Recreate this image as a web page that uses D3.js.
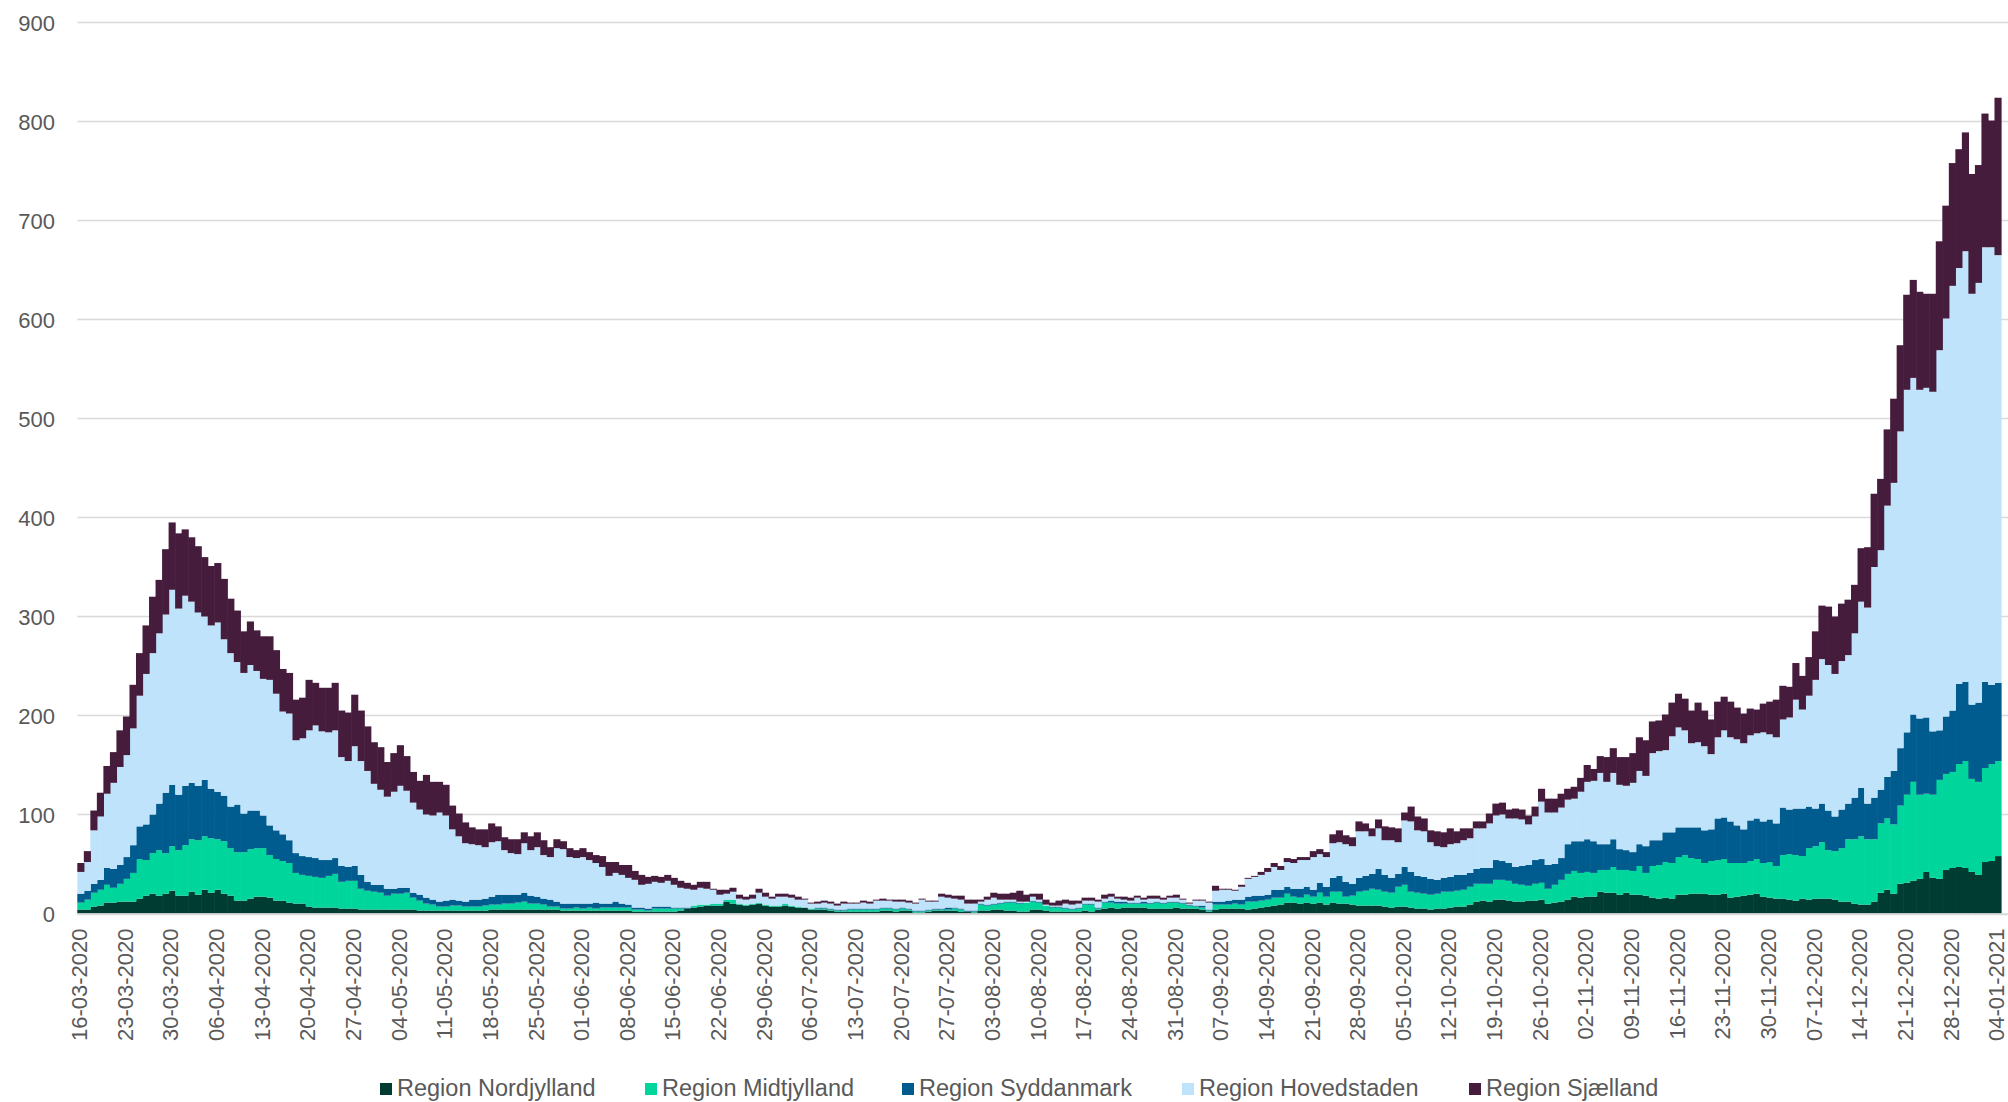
<!DOCTYPE html>
<html><head><meta charset="utf-8">
<script src="https://cdn.jsdelivr.net/npm/d3@7"></script>
<style>html,body{margin:0;padding:0;background:#fff}svg{display:block}text{font-family:"Liberation Sans",Arial,sans-serif}</style>
</head><body><svg id="c" width="2008" height="1102"></svg>
<script>
const seriesNames = ["Region Nordjylland","Region Midtjylland","Region Syddanmark","Region Hovedstaden","Region Sjælland"];
const seriesColors = ["#003c32","#00d59b","#005b8e","#bfe3fb","#461c3d"];
const tickLabels = ["16-03-2020","23-03-2020","30-03-2020","06-04-2020","13-04-2020","20-04-2020","27-04-2020","04-05-2020","11-05-2020","18-05-2020","25-05-2020","01-06-2020","08-06-2020","15-06-2020","22-06-2020","29-06-2020","06-07-2020","13-07-2020","20-07-2020","27-07-2020","03-08-2020","10-08-2020","17-08-2020","24-08-2020","31-08-2020","07-09-2020","14-09-2020","21-09-2020","28-09-2020","05-10-2020","12-10-2020","19-10-2020","26-10-2020","02-11-2020","09-11-2020","16-11-2020","23-11-2020","30-11-2020","07-12-2020","14-12-2020","21-12-2020","28-12-2020","04-01-2021"];
const yTicks = [0,100,200,300,400,500,600,700,800,900];
const nordjylland = [
4,4,7,8,11,11,12,12,12,15, 18,20,18,20,23,18,18,22,19,24, 21,24,20,18,13,13,15,17,17,16, 13,13,11,10,10,7,6,6,6,6,
5,5,5,4,4,4,4,4,4,4, 4,4,3,3,3,3,3,3,3,3, 3,3,3,4,4,4,4,4,4,4, 4,4,4,4,3,3,3,3,3,3,
3,3,3,3,3,2,2,2,2,2, 2,2,3,5,6,7,8,8,8,12, 10,9,8,9,10,8,7,7,8,7, 6,6,4,4,4,3,2,2,2,2,
2,2,2,3,3,2,3,3,1,1, 2,3,3,3,3,2,2,1,3,3, 4,4,3,3,2,2,4,4,3,2, 2,2,2,2,3,2,4,5,6,5,
6,6,6,6,5,5,5,5,6,5, 5,5,4,2,4,5,5,5,5,4, 5,6,7,8,9,11,11,10,11,10, 11,9,11,10,10,9,8,8,8,8,
7,6,7,7,6,5,5,4,5,5, 6,7,7,9,12,13,12,14,14,13, 12,12,13,13,14,10,11,12,14,17, 16,17,17,22,21,21,19,21,19,19,
18,16,15,16,15,19,19,20,20,20, 19,19,20,16,17,18,19,20,17,16, 15,15,14,13,15,14,15,15,15,14, 12,12,10,9,9,12,21,24,20,30,
31,33,35,42,36,35,44,46,47,46, 42,39,52,53,58];
const midtjylland = [
7,10,14,16,18,15,18,23,29,40, 36,41,46,41,45,46,51,53,55,54, 55,51,53,48,49,49,50,49,49,43, 42,40,40,31,29,31,31,30,32,34,
27,28,28,21,19,18,17,14,16,16, 17,12,10,7,6,4,4,5,5,4, 4,4,5,5,5,6,6,7,8,6, 6,5,3,3,2,2,3,2,3,2,
3,3,3,3,3,2,2,1,3,3, 3,3,2,0,2,2,1,2,2,2, 4,1,1,1,1,1,1,1,2,1, 1,0,1,1,1,1,1,1,2,2,
2,2,2,2,2,2,2,1,1,1, 1,1,1,1,2,2,0,1,6,5, 5,6,8,8,8,9,8,7,5,4, 4,3,2,3,6,7,1,6,5,5,
4,4,4,4,5,6,5,6,5,5, 3,2,2,1,5,4,4,5,4,8, 7,7,7,8,7,9,6,6,8,7, 10,8,11,12,7,9,14,15,17,16,
15,15,20,22,16,16,15,15,15,17, 16,16,17,18,18,17,18,20,20,20, 18,17,15,17,17,15,18,22,26,26, 25,25,24,22,23,26,25,23,24,29,
23,32,34,36,36,38,40,36,35,31, 34,35,35,35,34,33,34,35,34,36, 33,44,46,46,43,52,53,57,49,49, 54,63,65,69,66,63,70,72,70,79,
89,100,85,79,84,100,97,97,104,108, 94,94,95,98,96];
const syddanmark = [
9,9,9,10,17,19,19,22,28,33, 36,39,47,61,62,56,60,57,55,57, 50,48,46,42,48,39,39,38,33,30, 29,27,23,20,19,19,19,18,16,16,
16,14,15,14,9,7,8,7,5,6, 5,5,6,6,5,5,6,6,5,5, 7,7,7,8,10,9,9,8,9,8, 7,6,7,5,5,5,4,5,4,6,
4,4,6,4,3,2,2,2,2,2, 2,1,1,1,0,0,0,0,0,0, 0,0,0,0,0,0,0,0,0,0, 0,0,0,1,1,1,1,1,1,1,
1,1,1,1,1,1,1,1,1,1, 1,1,1,2,1,1,1,1,1,1, 1,1,1,1,1,0,1,1,0,1, 1,1,1,1,1,1,1,1,2,2,
2,1,1,2,1,1,1,1,1,1, 1,1,2,1,3,3,4,4,5,5, 6,5,5,8,8,7,8,9,8,7, 10,10,14,16,15,12,14,15,15,21,
17,15,13,18,20,17,17,16,14,14, 15,16,15,14,15,16,16,20,19,18, 17,19,21,24,24,24,21,22,30,30, 32,33,32,26,26,28,21,20,19,22,
27,26,25,30,31,30,28,31,32,33, 32,42,42,42,38,34,41,41,42,43, 43,48,45,47,48,42,38,39,40,35, 39,36,42,49,36,42,34,42,54,58,
63,68,77,77,64,50,58,62,81,80, 75,80,87,80,79];
const hovedstaden = [
22,29,54,64,75,87,99,103,118,132, 152,163,172,180,197,188,192,183,175,165, 165,171,158,155,144,142,147,141,138,147, 138,124,128,114,119,128,134,130,129,129,
110,107,121,115,112,102,96,93,98,103, 98,91,86,84,85,90,86,71,65,59, 56,55,52,55,54,45,42,41,50,46, 50,44,43,54,55,47,46,47,44,40,
37,28,29,29,27,28,23,25,25,24, 26,23,20,19,16,17,16,14,9,6, 8,5,5,5,10,8,7,9,7,8, 7,8,5,4,5,5,4,6,5,5,
6,5,8,7,7,7,6,6,7,11, 8,7,12,10,9,9,7,7,2,5, 6,3,2,2,1,1,4,2,1,1, 1,4,4,4,3,3,6,3,4,3,
2,2,5,2,4,3,3,4,4,3, 1,5,5,7,11,12,11,9,13,18, 19,21,23,23,20,25,26,29,27,33, 29,30,35,34,38,38,47,45,38,41,
35,38,32,47,51,46,46,37,34,31, 33,32,35,35,41,40,45,45,47,45, 49,47,41,44,58,53,52,51,45,43, 50,58,61,72,63,67,65,65,70,74,
71,88,90,83,97,101,98,85,86,85, 76,82,88,85,87,87,86,86,90,86, 87,89,93,110,100,112,130,146,147,144, 150,150,166,188,198,233,242,274,291,320,
346,340,332,333,343,384,402,429,420,435, 415,424,439,442,432];
const sjaelland = [
9,11,20,24,28,31,37,39,44,43, 49,57,54,66,68,76,67,65,67,60, 60,60,61,55,52,42,44,41,43,44, 44,43,41,41,41,51,43,44,45,48,
47,49,52,51,45,42,43,35,39,41, 35,31,29,40,34,31,31,24,23,21, 17,16,18,19,15,13,14,15,11,14, 15,15,10,9,8,9,8,9,8,8,
11,14,11,10,13,9,10,7,6,6, 6,7,7,6,5,6,7,1,5,4, 4,4,3,4,4,4,2,3,3,3, 3,1,1,2,2,2,2,2,1,1,
2,2,1,2,1,2,2,2,1,1, 1,1,3,3,3,4,4,4,2,3, 5,6,6,7,11,7,3,6,5,3, 5,4,4,3,3,3,2,4,3,2,
3,3,2,2,3,3,2,2,3,1, 1,1,1,1,5,1,1,1,2,1, 1,3,4,4,4,4,4,3,3,6, 5,5,9,12,9,9,10,8,8,9,
14,13,14,8,15,14,13,12,15,15, 16,12,12,10,7,7,10,12,12,9, 10,10,9,10,13,14,14,14,11,12, 14,17,12,17,25,25,28,29,30,34,
36,32,31,36,34,34,32,33,40,36, 35,36,34,36,32,30,27,24,29,33, 38,34,31,37,34,39,49,54,59,58, 58,56,49,54,61,74,72,77,85,87,
96,99,99,95,99,110,114,124,120,120, 121,119,135,128,159];

const fmt = d3.timeFormat("%d-%m-%Y");
const dates = d3.timeDay.range(new Date(2020,2,16), new Date(2021,0,5)).map(fmt);
const seriesData = [nordjylland, midtjylland, syddanmark, hovedstaden, sjaelland];
const rows = dates.map((d,i)=>{const r={date:d}; seriesNames.forEach((k,j)=>r[k]=seriesData[j][i]||0); return r;});
const stacked = d3.stack().keys(seriesNames)(rows);

const svg = d3.select("#c");
const L = 77.3, R = 2001, Y0 = 913.5, Y900 = 22.5;
const x = d3.scaleBand().domain(dates).range([L,R]).padding(0);
const y = d3.scaleLinear().domain([0,900]).range([Y0,Y900]);

// gridlines
svg.append("g").selectAll("line").data(yTicks.filter(v=>v>0)).join("line")
  .attr("x1",L).attr("x2",2008).attr("y1",d=>y(d)).attr("y2",d=>y(d))
  .attr("stroke","#d9d9d9").attr("stroke-width",1.5);

// bars
svg.append("g").selectAll("g").data(stacked).join("g")
  .attr("fill",(d,i)=>seriesColors[i])
  .selectAll("rect").data(d=>d).join("rect")
  .attr("x",d=>x(d.data.date)).attr("width",x.bandwidth()+0.6)
  .attr("y",d=>y(d[1])).attr("height",d=>Math.max(0,y(d[0])-y(d[1])));

// baseline
svg.append("line").attr("x1",L).attr("x2",2008).attr("y1",Y0+0.8).attr("y2",Y0+0.8)
  .attr("stroke","#d9d9d9").attr("stroke-width",2);

// y axis
const yAxis = d3.axisLeft(y).tickValues(yTicks).tickSize(0).tickPadding(0).tickFormat(d3.format("d"));
const gy = svg.append("g").attr("transform","translate(55,0)").call(yAxis);
gy.select(".domain").remove();
gy.selectAll("text").attr("fill","#595959").style("font-size","22px").attr("x",0).attr("dy","0.35em");

// x axis
const xAxis = d3.axisBottom(x).tickValues(tickLabels).tickSize(0);
const gx = svg.append("g").attr("transform",`translate(-1.2,${Y0})`).call(xAxis);
gx.select(".domain").remove();
gx.selectAll("text").attr("fill","#595959").style("font-size","22px")
  .attr("text-anchor","end").attr("transform","rotate(-90)")
  .attr("x",-15).attr("y",0).attr("dy","0.35em");

// legend
const legX = [380,645,902,1182,1469];
const lg = svg.append("g").selectAll("g").data(seriesNames).join("g")
  .attr("transform",(d,i)=>`translate(${legX[i]},1083)`);
lg.append("rect").attr("width",12).attr("height",12).attr("fill",(d,i)=>seriesColors[i]);
lg.append("text").attr("x",17).attr("y",13).text(d=>d).attr("fill","#595959").style("font-size","23.5px");
</script></body></html>
